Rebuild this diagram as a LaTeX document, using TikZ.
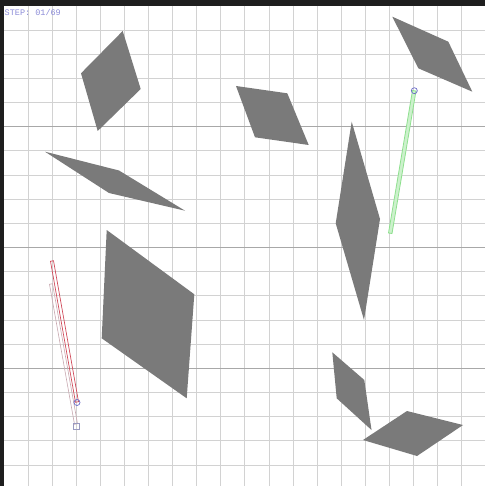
\documentclass[tikz,border=0pt]{standalone}
\usepackage{fontspec}
\newfontfamily\monofont{Liberation Mono}
\begin{document}
\begin{tikzpicture}[x=1pt,y=-1pt,
  rhomb/.style={fill=shapegray,draw=none},
  gridthin/.style={draw=gridlight,line width=0.9pt},
  gridthick/.style={draw=griddark,line width=1.2pt},
  marker/.style={draw=markblue,line width=0.7pt}]
\definecolor{shapegray}{HTML}{7A7A7A}
\definecolor{gridlight}{HTML}{D2D2D2}
\definecolor{griddark}{HTML}{A8A8A8}
\definecolor{markblue}{HTML}{6A6AC8}
\definecolor{squaregray}{HTML}{9A9AC0}
\definecolor{redline}{HTML}{D04A5A}
\definecolor{pinkline}{HTML}{C8A8B0}
\definecolor{greenline}{HTML}{8EE08E}
\definecolor{textpurple}{HTML}{8C8CD8}
\useasboundingbox (0,0) rectangle (485,486);
\fill[fill={rgb,255:red,30;green,30;blue,30}] (0,0) rectangle (485,486);
\fill[white] (4,6) rectangle (485,486);
% grid
\foreach \k in {1,...,19}{
  \pgfmathsetmacro\gx{4.2+24.07*\k}
  \pgfmathsetmacro\gy{5.8+24.17*\k}
  \draw[gridthin] (\gx,6) -- (\gx,486);
  \draw[gridthin] (4,\gy) -- (485,\gy);
}
\foreach \k in {5,10,15}{
  \pgfmathsetmacro\gx{4.2+24.07*\k}
  \pgfmathsetmacro\gy{5.8+24.17*\k}
  \draw[gridthick] (4,\gy) -- (485,\gy);
}
% shapes
\fill[rhomb] (122.7,31) -- (140.7,89) -- (97.7,131) -- (81,73.3) -- cycle;
\fill[rhomb] (45,151.7) -- (119,170.5) -- (185,210.7) -- (109,193) -- cycle;
\fill[rhomb] (106.7,230) -- (194.3,294.3) -- (186.7,398.3) -- (101.7,338.3) -- cycle;
\fill[rhomb] (236,86) -- (287.3,93.3) -- (308.7,145) -- (255,137.3) -- cycle;
\fill[rhomb] (351.7,121.7) -- (380,219) -- (364,320) -- (335.7,223.3) -- cycle;
\fill[rhomb] (392.3,16.7) -- (448.3,41.7) -- (472.3,91.7) -- (418.3,68.3) -- cycle;
\fill[rhomb] (332.3,352.3) -- (364.3,380) -- (371.5,430) -- (336.7,398.3) -- cycle;
\fill[rhomb] (363,440) -- (407,411) -- (463,425) -- (417,456) -- cycle;
% red / pink boxes
\draw[pinkline,line width=0.6pt] (49.5,284.3) -- (52.5,283.7) -- (77.5,423.7) -- (74.5,424.3) -- cycle;
\draw[redline,line width=0.7pt] (50.5,261.3) -- (53.5,260.7) -- (78.5,401.7) -- (75.5,402.3) -- cycle;
\draw[marker] (77,402.5) circle (3);
\draw[draw=squaregray,line width=0.7pt] (73,423) rectangle (79,429);
% green box
\draw[greenline,fill=greenline!45,line width=0.8pt] (412.5,90.5) -- (416,91) -- (392,233.5) -- (388.5,233) -- cycle;
\draw[marker] (414.3,90.7) circle (3);
% label
\node[text=textpurple,font=\monofont\fontsize{8.5}{9}\selectfont,anchor=west,inner sep=0pt] (step) at (4.5,12) {STEP: 01/69};
\end{tikzpicture}
\end{document}
